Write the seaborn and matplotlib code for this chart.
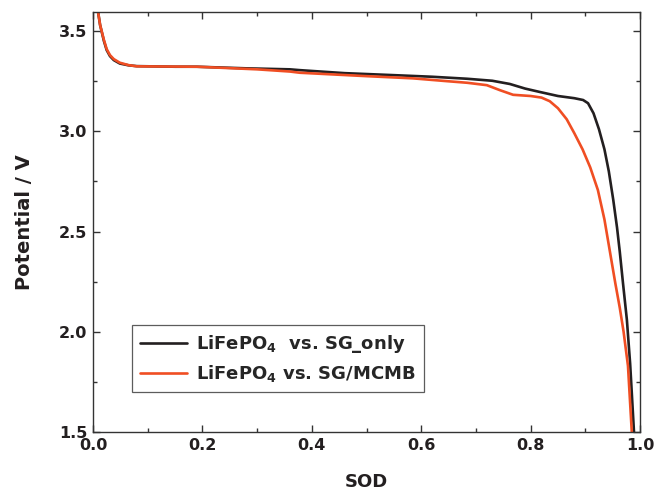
import numpy as np
import pandas as pd
import matplotlib
matplotlib.use("Agg")
import matplotlib.pyplot as plt
import seaborn as sns
from matplotlib.ticker import MultipleLocator, FormatStrFormatter

sod_sg = [0.009, 0.013, 0.02, 0.025, 0.031, 0.038, 0.049, 0.065, 0.08, 0.15, 0.19, 0.28,
          0.36, 0.378, 0.46, 0.55, 0.62, 0.684, 0.73, 0.762, 0.79, 0.817, 0.85, 0.88,
          0.896, 0.905, 0.915, 0.925, 0.935, 0.943, 0.951, 0.958, 0.963, 0.969, 0.976,
          0.982, 0.989]
v_sg = [3.6, 3.53, 3.45, 3.405, 3.375, 3.355, 3.338, 3.329, 3.325, 3.322, 3.322, 3.314,
        3.309, 3.305, 3.29, 3.28, 3.272, 3.262, 3.252, 3.236, 3.213, 3.196, 3.176, 3.165,
        3.156, 3.14, 3.09, 3.01, 2.91, 2.8, 2.66, 2.52, 2.4, 2.24, 2.06, 1.84, 1.5]

sod_mcmb = [0.009, 0.013, 0.02, 0.025, 0.031, 0.038, 0.049, 0.065, 0.08, 0.19, 0.3, 0.36,
            0.378, 0.5, 0.585, 0.647, 0.684, 0.72, 0.744, 0.768, 0.8, 0.82, 0.835, 0.85,
            0.866, 0.88, 0.895, 0.909, 0.923, 0.935, 0.945, 0.955, 0.963, 0.97, 0.978,
            0.985]
v_mcmb = [3.6, 3.53, 3.455, 3.41, 3.38, 3.36, 3.342, 3.33, 3.324, 3.322, 3.309, 3.298,
          3.292, 3.275, 3.264, 3.25, 3.242, 3.23, 3.205, 3.182, 3.176, 3.168, 3.15, 3.115,
          3.06, 2.99, 2.91, 2.82, 2.707, 2.56, 2.4, 2.24, 2.12, 2.0, 1.83, 1.5]

labels = [r"LiFePO$_4$  vs. SG_only", r"LiFePO$_4$ vs. SG/MCMB"]
colors = ["#231f20", "#f04e23"]

df = pd.concat([
    pd.DataFrame({"SOD": sod_sg, "V": v_sg, "cell": labels[0]}),
    pd.DataFrame({"SOD": sod_mcmb, "V": v_mcmb, "cell": labels[1]}),
])

sns.set_style("ticks")
plt.rcParams["font.family"] = ["DejaVu Sans"]
plt.rcParams["font.weight"] = "bold"
plt.rcParams["mathtext.fontset"] = "custom"
plt.rcParams["mathtext.rm"] = "DejaVu Sans:bold"
plt.rcParams["mathtext.bf"] = "DejaVu Sans:bold"
plt.rcParams["mathtext.default"] = "rm"

fig = plt.figure(figsize=(6.72, 4.95), dpi=100)
ax = fig.add_axes([93/672, 63/495, 547/672, 420/495])

sns.lineplot(data=df, x="SOD", y="V", hue="cell", palette=colors, sort=False,
             estimator=None, linewidth=1.9, ax=ax)

ax.set_xlim(0, 1.0)
ax.set_ylim(1.5, 3.595)
ax.xaxis.set_major_locator(MultipleLocator(0.2))
ax.xaxis.set_minor_locator(MultipleLocator(0.1))
ax.yaxis.set_major_locator(MultipleLocator(0.5))
ax.yaxis.set_minor_locator(MultipleLocator(0.25))
ax.xaxis.set_major_formatter(FormatStrFormatter("%.1f"))
ax.yaxis.set_major_formatter(FormatStrFormatter("%.1f"))
ax.tick_params(which="both", direction="in", top=True, right=True, colors="#333333",
               labelcolor="#231f20", labelsize=11.5, width=1.0)
ax.tick_params(which="major", length=5, pad=4)
ax.tick_params(which="minor", length=3)
for s in ax.spines.values():
    s.set_color("#333333")
    s.set_linewidth(1.0)

ax.set_xlabel("SOD", fontsize=13, fontweight="bold", color="#231f20", labelpad=15)
ax.set_ylabel("Potential / V", fontsize=14, fontweight="bold", color="#231f20", labelpad=18)

leg = ax.legend(loc="lower left", bbox_to_anchor=(0.0713, 0.095), borderaxespad=0,
                fontsize=13, frameon=True, fancybox=False, handlelength=2.6,
                handletextpad=0.5, borderpad=0.45, labelspacing=0.45)
leg.get_frame().set_edgecolor("#333333")
leg.get_frame().set_linewidth(0.9)

fig.savefig("out.png", dpi=100)
